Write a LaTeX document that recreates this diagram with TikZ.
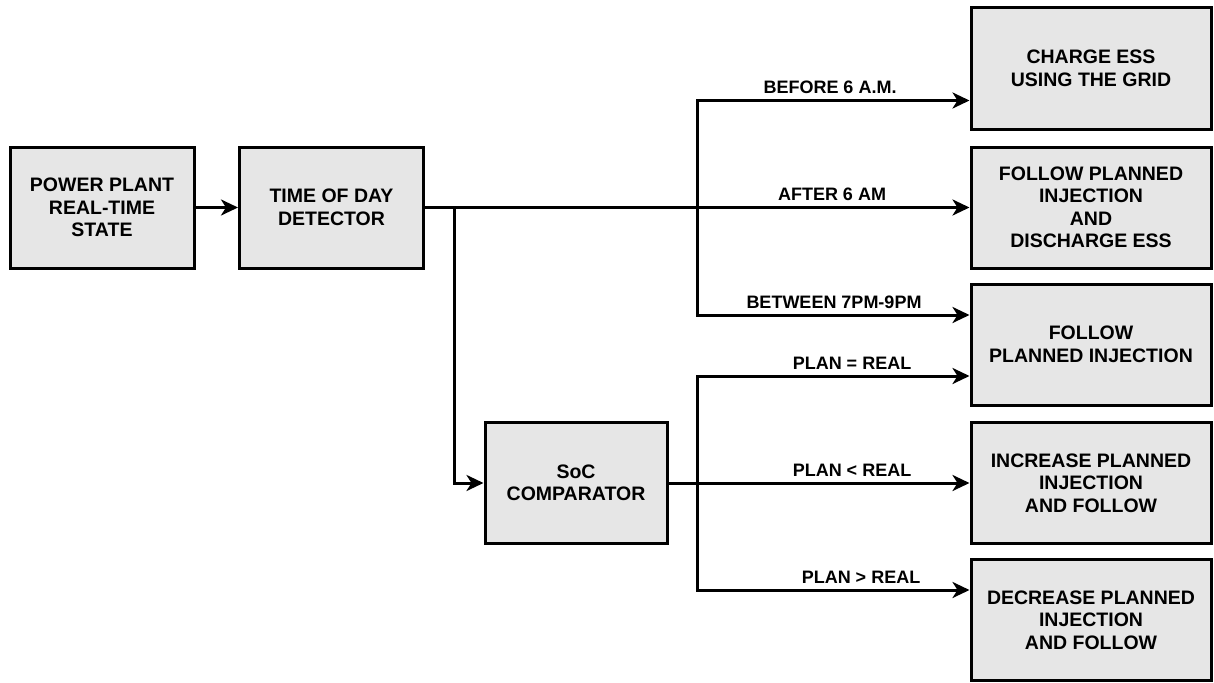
\documentclass[tikz,border=0pt]{standalone}
\usepackage{fontspec}
\setmainfont{Liberation Sans}
\usetikzlibrary{arrows.meta}
\definecolor{boxfill}{HTML}{E6E6E6}
\tikzset{
  blk/.style={draw=black, fill=boxfill, line width=3pt, rectangle, align=center,
    inner sep=2pt, font=\bfseries\fontsize{19.5}{22.5}\selectfont},
  lblk/.style={blk, minimum width=184pt, minimum height=121pt},
  rblk/.style={blk, minimum width=240pt, minimum height=121pt},
  conn/.style={line width=3pt, -{Stealth[length=17pt,width=16pt,inset=5pt]}},
  lbl/.style={anchor=base, inner sep=0pt, font=\bfseries\fontsize{18}{20}\selectfont}
}
\begin{document}
\begin{tikzpicture}[x=1pt,y=-1pt]
\useasboundingbox (0,0) rectangle (1214,682);
% left boxes
\node[lblk] (pp) at (102,207.5) {POWER PLANT\\REAL-TIME\\STATE};
\node[lblk] (td) at (331.5,207.5) {TIME OF DAY\\DETECTOR};
\node[blk, minimum width=182pt, minimum height=121pt] (soc) at (576,483) {SoC\\COMPARATOR};
% right boxes
\node[rblk] (ra) at (1091,68.5) {CHARGE ESS\\USING THE GRID};
\node[rblk] (rb) at (1091,207.5) {FOLLOW PLANNED\\INJECTION\\AND\\DISCHARGE ESS};
\node[rblk] (rc) at (1091,344.5) {FOLLOW\\PLANNED INJECTION};
\node[rblk] (rd) at (1091,483) {INCREASE PLANNED\\INJECTION\\AND FOLLOW};
\node[rblk] (re) at (1091,620) {DECREASE PLANNED\\INJECTION\\AND FOLLOW};
% junction coordinates
\coordinate (j1) at (697,207.5);
\coordinate (j0) at (454.5,207.5);
\coordinate (j2) at (697,483);
% connectors
\draw[conn] (pp) -- (td);
\draw[conn] (td) -- (rb);
\draw[conn] (j1) |- (ra.west |- 0,100.5);
\draw[conn] (j1) |- (rc.west |- 0,315);
\draw[conn] (j0) |- (soc);
\draw[conn] (soc) -- (rd);
\draw[conn] (j2) |- (rc.west |- 0,376);
\draw[conn] (j2) |- (re.west |- 0,590);
% labels
\node[lbl] (l1) at (830,93.5) {BEFORE 6 A.M.};
\node[lbl] (l2) at (832,200.5) {AFTER 6 AM};
\node[lbl] (l3) at (834,308) {BETWEEN 7PM-9PM};
\node[lbl] (l4) at (852,369) {PLAN = REAL};
\node[lbl] (l5) at (852,476) {PLAN < REAL};
\node[lbl] (l6) at (861,583) {PLAN > REAL};
\end{tikzpicture}
\end{document}
